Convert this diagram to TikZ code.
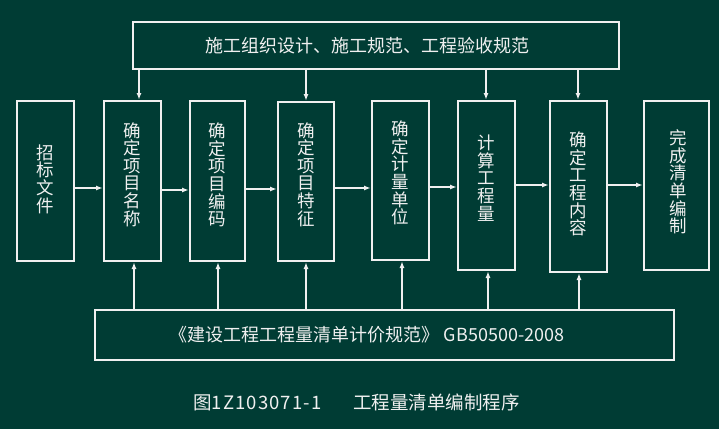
\documentclass[tikz,border=0pt]{standalone}
\usepackage{fontspec}
\setmainfont{Noto Sans CJK SC}
\usetikzlibrary{arrows.meta}
\definecolor{bgc}{RGB}{0,60,52}
\definecolor{fgc}{RGB}{240,240,240}
\tikzset{
  boxnode/.style={draw=fgc, line width=2pt, rectangle, inner sep=0pt},
  vtext/.style={text=fgc, font=\fontsize{17.5}{17.6}\selectfont, align=center, inner sep=0pt},
  htext/.style={text=fgc, font=\fontsize{18}{20}\selectfont, inner sep=0pt},
  arr/.style={draw=fgc, line width=1.5pt, -{Latex[length=7pt,width=5pt]}}
}
\begin{document}
\begin{tikzpicture}[x=1pt,y=-1pt]
\fill[bgc] (0,0) rectangle (719,429);
\useasboundingbox (0,0) rectangle (719,429);
% top and bottom boxes
\node[boxnode, minimum width=486pt, minimum height=47pt] (top) at (376,45.5) {};
\node[htext] (toptext) at (367.5,45.5) {施工组织设计、施工规范、工程验收规范};
\node[boxnode, minimum width=579pt, minimum height=50pt] (bot) at (384.5,335) {};
\node[htext] (bottext) at (367,335) {《建设工程工程量清单计价规范》 GB50500-2008};
% step boxes
\node[boxnode, minimum width=57pt, minimum height=160pt] (b1) at (45.5,181) {};
\node[boxnode, minimum width=57pt, minimum height=160pt] (b2) at (132.5,181) {};
\node[boxnode, minimum width=55pt, minimum height=160pt] (b3) at (217.5,181) {};
\node[boxnode, minimum width=56pt, minimum height=159pt] (b4) at (306,181.5) {};
\node[boxnode, minimum width=57pt, minimum height=159pt] (b5) at (400.5,180.5) {};
\node[boxnode, minimum width=57pt, minimum height=169pt] (b6) at (486.5,185.5) {};
\node[boxnode, minimum width=57pt, minimum height=171pt] (b7) at (578.5,186.5) {};
\node[boxnode, minimum width=65pt, minimum height=169pt] (b8) at (676.5,185.5) {};
% texts
\node[vtext] (t1) at (45,179) {招\\标\\文\\件};
\node[vtext] (t2) at (132.5,174.5) {确\\定\\项\\目\\名\\称};
\node[vtext] (t3) at (217.5,175) {确\\定\\项\\目\\编\\码};
\node[vtext] (t4) at (306,174.5) {确\\定\\项\\目\\特\\征};
\node[vtext] (t5) at (400.5,173) {确\\定\\计\\量\\单\\位};
\node[vtext] (t6) at (486.5,178) {计\\算\\工\\程\\量};
\node[vtext] (t7) at (578.5,184) {确\\定\\工\\程\\内\\容};
\node[vtext] (t8) at (678,182) {完\\成\\清\\单\\编\\制};
% caption
\node[htext, font=\fontsize{18.5}{20}\selectfont, anchor=west] (cap) at (193,402) {图{\addfontfeature{LetterSpace=6}1Z103071-1}\hspace{32pt}工程量清单编制程序};
% horizontal arrows
\coordinate (h12) at (0,188);
\coordinate (h23) at (0,190);
\coordinate (h34) at (0,189);
\coordinate (h45) at (0,188);
\coordinate (h56) at (0,187);
\coordinate (h67) at (0,185);
\coordinate (h78) at (0,185);
\draw[arr] (b1.east |- h12) -- (b2.west |- h12);
\draw[arr] (b2.east |- h23) -- (b3.west |- h23);
\draw[arr] (b3.east |- h34) -- (b4.west |- h34);
\draw[arr] (b4.east |- h45) -- (b5.west |- h45);
\draw[arr] (b5.east |- h56) -- (b6.west |- h56);
\draw[arr] (b6.east |- h67) -- (b7.west |- h67);
\draw[arr] (b7.east |- h78) -- (b8.west |- h78);
% top arrows
\coordinate (v2) at (139,0);
\coordinate (v4) at (306,0);
\coordinate (v6) at (486,0);
\coordinate (v7) at (578,0);
\draw[arr] (top.south -| v2) -- (b2.north -| v2);
\draw[arr] (top.south -| v4) -- (b4.north -| v4);
\draw[arr] (top.south -| v6) -- (b6.north -| v6);
\draw[arr] (top.south -| v7) -- (b7.north -| v7);
% bottom arrows
\coordinate (u2) at (134,0);
\coordinate (u3) at (218,0);
\coordinate (u4) at (306,0);
\coordinate (u5) at (402,0);
\coordinate (u6) at (488,0);
\coordinate (u7) at (579,0);
\draw[arr] (bot.north -| u2) -- (b2.south -| u2);
\draw[arr] (bot.north -| u3) -- (b3.south -| u3);
\draw[arr] (bot.north -| u4) -- (b4.south -| u4);
\draw[arr] (bot.north -| u5) -- (b5.south -| u5);
\draw[arr] (bot.north -| u6) -- (b6.south -| u6);
\draw[arr] (bot.north -| u7) -- (b7.south -| u7);
\end{tikzpicture}
\end{document}
